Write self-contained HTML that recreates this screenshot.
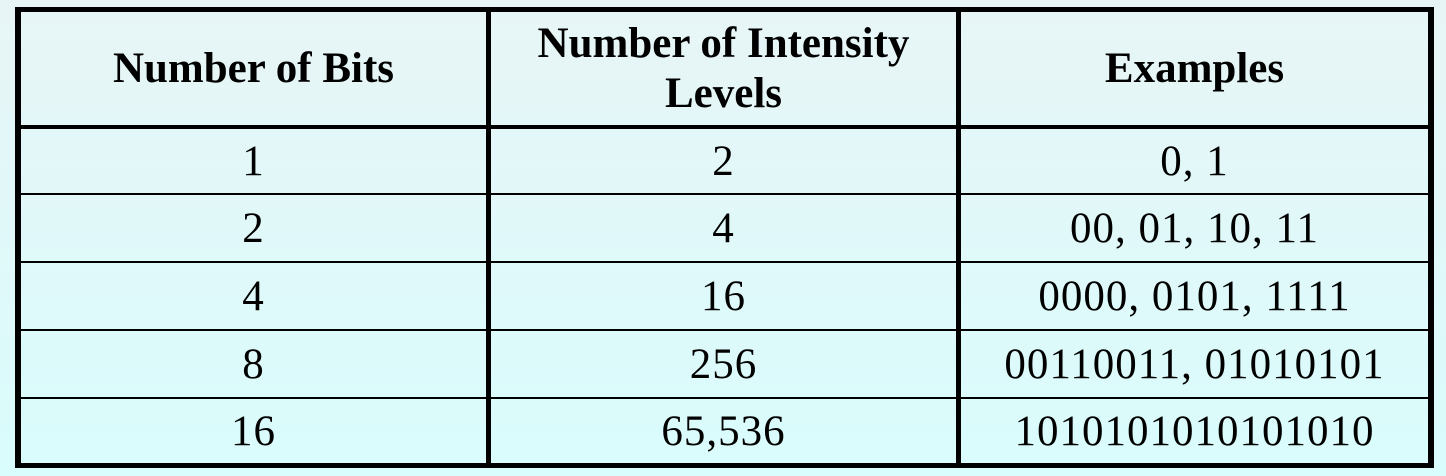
<!DOCTYPE html>
<html><head><meta charset="utf-8"><style>
html,body{margin:0;padding:0}
body{width:1446px;height:476px;position:relative;overflow:hidden;background:linear-gradient(#e8f5f6,#d9fcfc);font-family:"Liberation Serif",serif;color:#000}
.l{position:absolute;background:#000}
.c{position:absolute;display:flex;align-items:center;justify-content:center;text-align:center}
.h{font-weight:bold;font-size:43px;line-height:50px}
.b{font-size:43px;letter-spacing:1px}
</style></head><body>
<div class="l" style="left:15px;top:7px;width:1419px;height:5px"></div>
<div class="l" style="left:15px;top:463px;width:1419px;height:5px"></div>
<div class="l" style="left:15px;top:7px;width:6px;height:461px"></div>
<div class="l" style="left:1428px;top:7px;width:6px;height:461px"></div>
<div class="l" style="left:486px;top:7px;width:5px;height:461px"></div>
<div class="l" style="left:956px;top:7px;width:5px;height:461px"></div>
<div class="l" style="left:15px;top:125px;width:1419px;height:4px"></div>
<div class="l" style="left:15px;top:193px;width:1419px;height:2px"></div>
<div class="l" style="left:15px;top:261px;width:1419px;height:2px"></div>
<div class="l" style="left:15px;top:329px;width:1419px;height:2px"></div>
<div class="l" style="left:15px;top:397px;width:1419px;height:2px"></div>

<div class="c h" style="left:21px;top:12px;width:465px;height:113px">Number of Bits</div>
<div class="c h" style="left:491px;top:12px;width:465px;height:113px">Number of Intensity<br>Levels</div>
<div class="c h" style="left:961px;top:12px;width:467px;height:113px">Examples</div>

<script>
const bits=["1","2","4","8","16"];
const levels=["2","4","16","256","65,536"];
const examples=["0, 1","00, 01, 10, 11","0000, 0101, 1111","00110011, 01010101","1010101010101010"];
const tops=[129,195,263,331,399];
const cols=[[21,465],[491,465],[961,467]];
const names=['bits-cell','levels-cell','examples-cell'];
for(let i=0;i<bits.length;i++){
  const vals=[bits[i],levels[i],examples[i]];
  const h=(i<bits.length-1?tops[i+1]-2:463)-tops[i];
  for(let j=0;j<3;j++){
    const d=document.createElement('div');
    d.className='c b';
    
    
    d.style.left=cols[j][0]+'px';d.style.width=cols[j][1]+'px';
    d.style.top=tops[i]+'px';d.style.height=h+'px';
    d.textContent=vals[j];
    document.body.appendChild(d);
  }
}
</script>
</body></html>
